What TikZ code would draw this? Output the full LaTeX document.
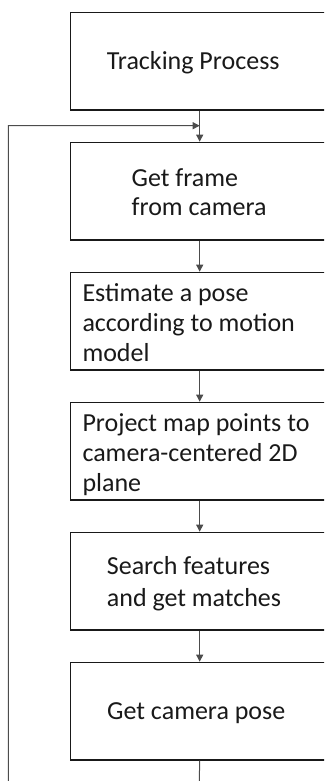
\documentclass[tikz,border=0pt]{standalone}
\usepackage{fontspec}
\setmainfont{Carlito}
\usetikzlibrary{arrows.meta}
\begin{document}
\begin{tikzpicture}[x=1pt,y=-1pt,
  box/.style={draw=black!90,line width=1.4pt,minimum width=258pt,minimum height=97.6pt,inner sep=0pt,anchor=north west},
  txt/.style={inner sep=0pt,anchor=base west,align=left,font=\fontsize{26pt}{30pt}\selectfont,text=black!90},
  conn/.style={draw=black!70,line width=1pt},
  tip/.style={-{Triangle[length=7pt,width=7pt]}}]
\useasboundingbox (0,0) rectangle (324,781);
\clip (0,0) rectangle (324,781);
% boxes
\node[box] (b1) at (70,11.7) {};
\node[box] (b2) at (70,141.7) {};
\node[box] (b3) at (70,271.7) {};
\node[box] (b4) at (70,401.7) {};
\node[box] (b5) at (70,531.7) {};
\node[box] (b6) at (70,661.7) {};
% texts (base = baseline of the last line)
\node[txt] (t1) at (106.7,69.3) {Tracking Process};
\node[txt,font=\fontsize{26pt}{28.3pt}\selectfont] (t2) at (131.5,215) {Get frame\\from camera};
\node[txt] (t3) at (82.3,361.7) {Estimate a pose\\according to motion\\model};
\node[txt] (t4) at (82.3,491.7) {Project map points to\\camera-centered 2D\\plane};
\node[txt,font=\fontsize{26pt}{31.7pt}\selectfont] (t5) at (106.7,606) {Search features\\and get matches};
\node[txt] (t6) at (107,719.3) {Get camera pose};
% connectors
\draw[conn,tip] (b1.south) -- (b2.north);
\draw[conn,tip] (b2.south) -- (b3.north);
\draw[conn,tip] (b3.south) -- (b4.north);
\draw[conn,tip] (b4.south) -- (b5.north);
\draw[conn,tip] (b5.south) -- (b6.north);
% feedback loop
\coordinate (lowR) at (199,795);
\coordinate (lowL) at (8.3,795);
\coordinate (upL) at (8.3,125.7);
\draw[conn,tip] (b6.south) -- (lowR) -- (lowL) -- (upL) -- (b2.north |- upL);
\end{tikzpicture}
\end{document}
